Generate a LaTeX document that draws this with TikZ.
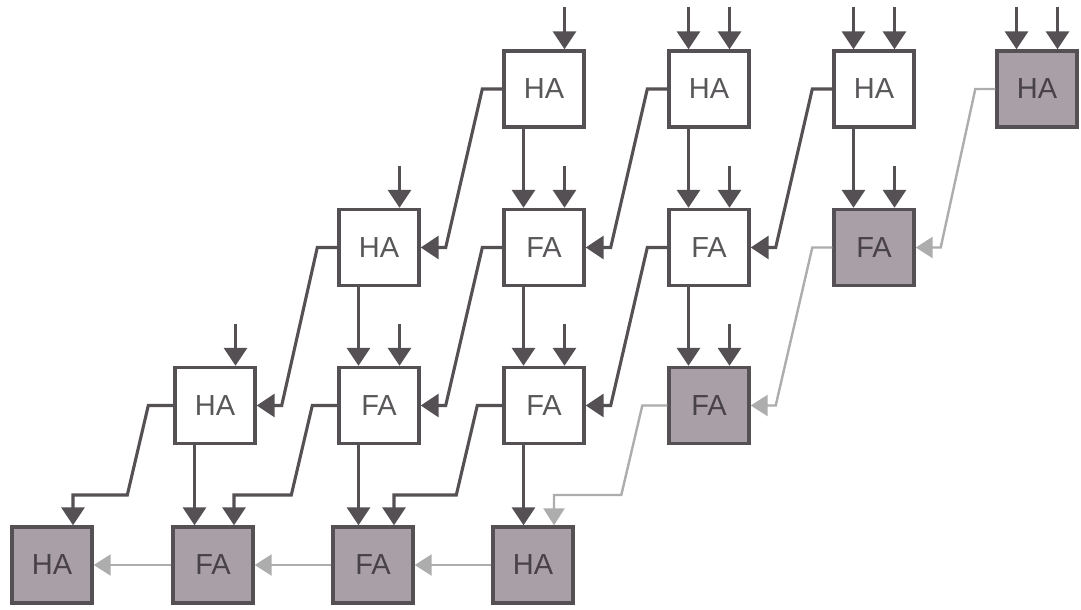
\documentclass[tikz,border=0pt]{standalone}
\usepackage{fontspec}
\setmainfont{Liberation Sans}
\usetikzlibrary{arrows.meta,calc}
\definecolor{ln}{HTML}{545054}
\definecolor{lite}{HTML}{ADADAD}
\definecolor{shade}{HTML}{A99FA7}
\definecolor{txt}{HTML}{5A575A}
\definecolor{gtxt}{HTML}{474247}
\begin{document}
\begin{tikzpicture}[x=1pt,y=-1pt,
  box/.style={draw=ln, line width=3.4pt, fill=white, minimum width=80pt, minimum height=76pt, inner sep=0pt, font=\fontsize{29}{29}\selectfont, text=txt},
  gbox/.style={box, fill=shade, text=gtxt},
  arr/.style={draw=ln, line width=3.1pt, -{Triangle[width=23pt,length=18pt]}},
  larr/.style={draw=lite, line width=2.4pt, -{Triangle[width=21pt,length=17pt]}}]
\useasboundingbox[fill=white] (0,0) rectangle (1081,610);
% row 0
\node[box]  (b03) at (544,89) {HA};
\node[box]  (b04) at (709,89) {HA};
\node[box]  (b05) at (874,89) {HA};
\node[gbox] (b06) at (1037,89) {HA};
% row 1
\node[box]  (b12) at (379,247.5) {HA};
\node[box]  (b13) at (544,247.5) {FA};
\node[box]  (b14) at (709,247.5) {FA};
\node[gbox] (b15) at (874,247.5) {FA};
% row 2
\node[box]  (b21) at (215,405.5) {HA};
\node[box]  (b22) at (379,405.5) {FA};
\node[box]  (b23) at (544,405.5) {FA};
\node[gbox] (b24) at (709,405.5) {FA};
% row 3
\node[gbox] (b30) at (52,565) {HA};
\node[gbox] (b31) at (213,565) {FA};
\node[gbox] (b32) at (373,565) {FA};
\node[gbox] (b33) at (533,565) {HA};
% free inputs (right position)
\foreach \n in {b03,b04,b05,b06,b12,b13,b14,b15,b21,b22,b23,b24}{
  \coordinate (\n-r) at ($(\n.north)+(20.5,0)$);
  \coordinate (\n-rs) at ($(\n.north)+(20.5,-42)$);
  \draw[arr] (\n-rs) -- (\n-r);
}
% free inputs (left position) top row
\foreach \n in {b04,b05,b06}{
  \coordinate (\n-l) at ($(\n.north)+(-20.5,0)$);
  \coordinate (\n-ls) at ($(\n.north)+(-20.5,-42)$);
  \draw[arr] (\n-ls) -- (\n-l);
}
% vertical sum connections
\foreach \s/\t in {b03/b13,b04/b14,b05/b15,b12/b22,b13/b23,b14/b24,b21/b31,b22/b32,b23/b33}{
  \coordinate (\s-d) at ($(\s.south)+(-20.5,0)$);
  \draw[arr] (\s-d) -- (\s-d |- \t.north);
}
% carries into right side
\foreach \s/\t in {b03/b12,b04/b13,b05/b14,b12/b21,b13/b22,b14/b23}{
  \draw[arr] (\s.west) -- ++(-20,0) -- ($(\t.east)+(25,0)$) -- (\t.east);
}
\foreach \s/\t in {b06/b15,b15/b24}{
  \draw[larr] (\s.west) -- ++(-20,0) -- ($(\t.east)+(25,0)$) -- (\t.east);
}
% carries into bottom row
\foreach \s/\t in {b21/b30,b22/b31,b23/b32}{
  \coordinate (\t-r) at ($(\t.north)+(21,0)$);
  \coordinate (\s-c) at ($(\s.west)+(-46,89.5)$);
  \draw[arr] (\s.west) -- ++(-25,0) -- (\s-c) -- (\s-c -| \t-r) -- (\t-r);
}
\coordinate (b33-r) at ($(b33.north)+(21,0)$);
\coordinate (b24-c) at ($(b24.west)+(-46,89.5)$);
\draw[larr] (b24.west) -- ++(-25,0) -- (b24-c) -- (b24-c -| b33-r) -- (b33-r);
% bottom row ripple
\draw[larr] (b33.west) -- (b32.east);
\draw[larr] (b32.west) -- (b31.east);
\draw[larr] (b31.west) -- (b30.east);
\end{tikzpicture}
\end{document}
